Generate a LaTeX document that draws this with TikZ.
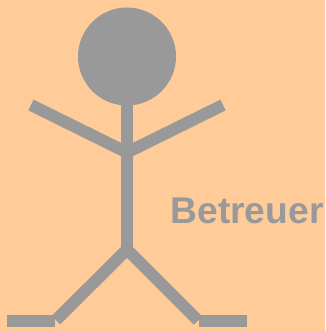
\documentclass[tikz,border=0pt]{standalone}
\usepackage{xcolor}
\usepackage{fontspec}
\setmainfont{Liberation Sans}
\definecolor{peach}{HTML}{FFCC99}
\definecolor{figgray}{HTML}{999999}

\begin{document}
\begin{tikzpicture}[x=0.75pt,y=-0.75pt,figline/.style={figgray,line width=9pt}]
  \fill[peach] (0,0) rectangle (325,331);
  \useasboundingbox (0,0) rectangle (325,331);
  \fill[figgray] (127,56.5) circle (49);
  \draw[figline] (127,100) -- (127,250);
  \draw[figline] (31,105) -- (127,152.5) -- (223,105);
  \draw[figline] (56,320) -- (127,249.5) -- (198,320.5);
  \draw[figline] (7,321) -- (55,321);
  \draw[figline] (199,321) -- (247,321);
  \node[figgray,anchor=base west,inner sep=0pt,font=\bfseries\fontsize{27.9}{27.9}\selectfont] (betreuer) at (170.3,223) {Betreuer};
\end{tikzpicture}
\end{document}
